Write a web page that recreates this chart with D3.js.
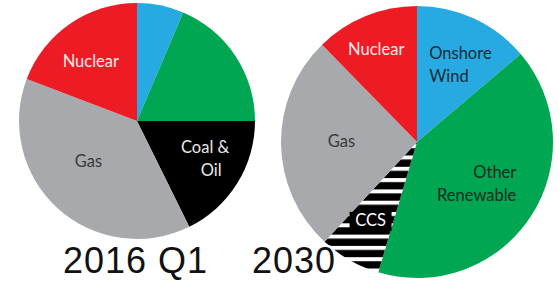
<!DOCTYPE html>
<html lang="en">
<head>
    <meta charset="UTF-8">
    <title>Electricity mix</title>
    <script src="https://d3js.org/d3.v7.min.js"></script>
    <style>
    body{
        margin: 0;
        background: #fff;
    }
    .label{
        font-family: "Lato", "Open Sans", sans-serif;
        font-size: 16.5px;
    }
    .title{
        font-family: "Liberation Sans", Arial, sans-serif;
        font-size: 36px;
        letter-spacing: 1px;
        fill: #111;
        stroke: #fff;
        stroke-width: 5px;
        paint-order: stroke;
    }
    </style>
</head>
<body>
    <script>
    var width = 559;
    var height = 281;

    // data
    var categories = ["Onshore Wind", "Other Renewable", "Coal & Oil", "Gas", "Nuclear"];
    var values2016 = [6.4, 18.6, 17.7, 38.1, 19.2];
    var categories2030 = ["Onshore Wind", "Other Renewable", "CCS", "Gas", "Nuclear"];
    var values2030 = [13.8, 40.8, 7.3, 25.8, 12.3];
    var titles = ["2016 Q1", "2030"];

    // colours per category
    var colour = {
        "Onshore Wind": "#27aae1",
        "Other Renewable": "#00a651",
        "Coal & Oil": "#000000",
        "CCS": "url(#stripes)",
        "Gas": "#a7a9ac",
        "Nuclear": "#ed1c24"
    };
    var textColour = {
        "Onshore Wind": "#1c2b36",
        "Other Renewable": "#1a2b1f",
        "Coal & Oil": "#e8e8e8",
        "CCS": "#ffffff",
        "Gas": "#3a3a3a",
        "Nuclear": "#fde8e8"
    };

    var svg = d3.select("body")
        .append("svg")
        .attr("width", width)
        .attr("height", height);

    // horizontal black/white stripes for CCS
    var pat = svg.append("defs").append("pattern")
        .attr("id", "stripes")
        .attr("patternUnits", "userSpaceOnUse")
        .attr("width", 10)
        .attr("height", 11.3)
        .attr("y", 183 % 11.3);
    pat.append("rect").attr("width", 10).attr("height", 11.3).attr("fill", "#000");
    pat.append("rect").attr("width", 10).attr("height", 4).attr("fill", "#fff");

    var pie = d3.pie().sort(null).value(function(d) { return d.value; });

    // line breaks for labels
    var labelLines = {
        "Onshore Wind": ["Onshore", "Wind"],
        "Other Renewable": ["Other", "Renewable"],
        "Coal & Oil": ["Coal &", "Oil"],
        "CCS": ["CCS"],
        "Gas": ["Gas"],
        "Nuclear": ["Nuclear"]
    };

    function drawPie(cx, cy, r, cats, vals, labelCfg) {
        var data = cats.map(function(c, i) { return {name: c, value: vals[i]}; });
        var arcs = pie(data);
        var arc = d3.arc().innerRadius(0).outerRadius(r);
        var labelArc = d3.arc().innerRadius(r * 0.6).outerRadius(r * 0.6);

        var g = svg.append("g").attr("transform", "translate(" + cx + "," + cy + ")");

        g.selectAll("path")
            .data(arcs)
            .enter()
            .append("path")
            .attr("d", arc)
            .attr("fill", function(d) { return colour[d.data.name]; });

        arcs.forEach(function(d) {
            var cfg = labelCfg[d.data.name];
            if (!cfg) return;   // unlabelled slice
            var c = labelArc.centroid(d);
            var lines = labelLines[d.data.name];
            var x = c[0] + cfg.dx, y = c[1] + cfg.dy;
            if (d.data.name == "CCS") {
                g.append("rect")
                    .attr("x", x - 21).attr("y", y - 14)
                    .attr("width", 42).attr("height", 19)
                    .attr("fill", "#000");
            }
            var t = g.append("text")
                .attr("class", "label")
                .attr("text-anchor", cfg.anchor || "middle")
                .attr("fill", textColour[d.data.name]);
            lines.forEach(function(l, i) {
                t.append("tspan")
                    .attr("x", x + (i > 0 && cfg.lineDx ? cfg.lineDx : 0))
                    .attr("y", y + i * 23)
                    .text(l);
            });
        });
    }

    drawPie(137, 121, 118, categories, values2016, {
        "Coal & Oil": {dx: 8, dy: -5, lineDx: 6},
        "Gas": {dx: -1, dy: -6},
        "Nuclear": {dx: -6, dy: 4}
    });

    drawPie(417, 142, 136, categories2030, values2030, {
        "Onshore Wind": {dx: -22, dy: -9, anchor: "start"},
        "Other Renewable": {dx: 31, dy: -9, anchor: "end"},
        "CCS": {dx: -6, dy: 13},
        "Gas": {dx: 6, dy: 4},
        "Nuclear": {dx: -10, dy: -11}
    });

    // titles
    svg.append("text").attr("class", "title")
        .attr("x", 63).attr("y", 273).text(titles[0]);
    svg.append("text").attr("class", "title")
        .attr("x", 252).attr("y", 273).text(titles[1]);
    </script>
</body>
</html>
